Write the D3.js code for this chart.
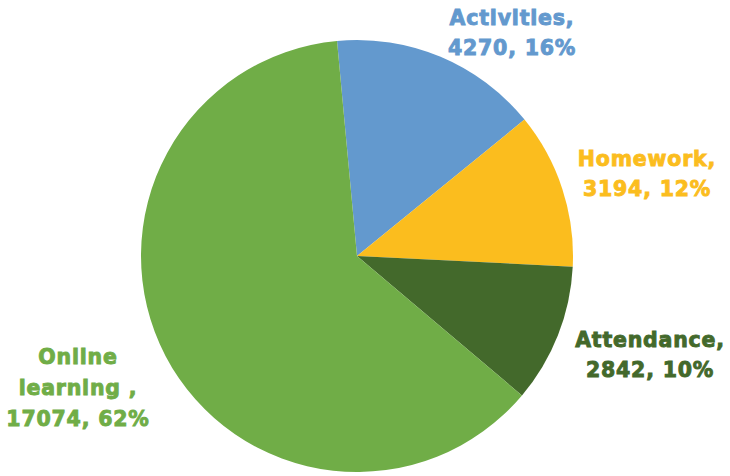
<html>
<script src="https://d3js.org/d3.v7.min.js"></script>
<body style="margin:0;background:#fff">
<svg id="pie" width="730" height="476"></svg>
<script>
var categories = ["Activities", "Homework", "Attendance", "Online learning "]
var values = [4270, 3194, 2842, 17074]
var percents = ["16%", "12%", "10%", "62%"]
var colors = ["#6399CE", "#FBBD1E", "#43692B", "#70AD47"]

var cx = 357, cy = 256, radius = 216
var startRot = -5.3 * Math.PI / 180

var svg = d3.select("#pie")
var g = svg.append("g").attr("transform", "translate(" + cx + "," + cy + ")")

var data = categories.map(function(c, i) { return {name: c, value: values[i], pct: percents[i], color: colors[i]} })

var pie = d3.pie().sort(null).value(function(d) { return d.value })
	.startAngle(startRot).endAngle(startRot + 2 * Math.PI)
var arc = d3.arc().innerRadius(0).outerRadius(radius)

g.selectAll("path")
	.data(pie(data))
	.enter().append("path")
	.attr("d", arc)
	.attr("fill", function(d) { return d.data.color })

// label boxes, hand placed like the original
var labelPos = [[512, 25], [647, 166], [650, 347], [78, 364]]
var labelLines = [
	["Activities,", d3.format("")(values[0]) + ", " + percents[0]],
	["Homework,", values[1] + ", " + percents[1]],
	["Attendance,", values[2] + ", " + percents[2]],
	["Online", "learning ,", values[3] + ", " + percents[3]]
]

data.forEach(function(d, i) {
	var t = svg.append("text")
		.attr("x", labelPos[i][0])
		.attr("y", labelPos[i][1])
		.attr("text-anchor", "middle")
		.style("font-family", "DejaVu Sans")
		.style("font-weight", "bold")
		.style("font-size", "20.5px")
		.style("letter-spacing", "0.8px")
		.style("fill", d.color)
		.style("stroke", d.color)
		.style("stroke-width", "0.9px")
	labelLines[i].forEach(function(line, j) {
		t.append("tspan").attr("x", labelPos[i][0]).attr("dy", j == 0 ? 0 : (i == 3 ? 31 : 29.5)).text(line)
	})
})
</script>
</body>
</html>
